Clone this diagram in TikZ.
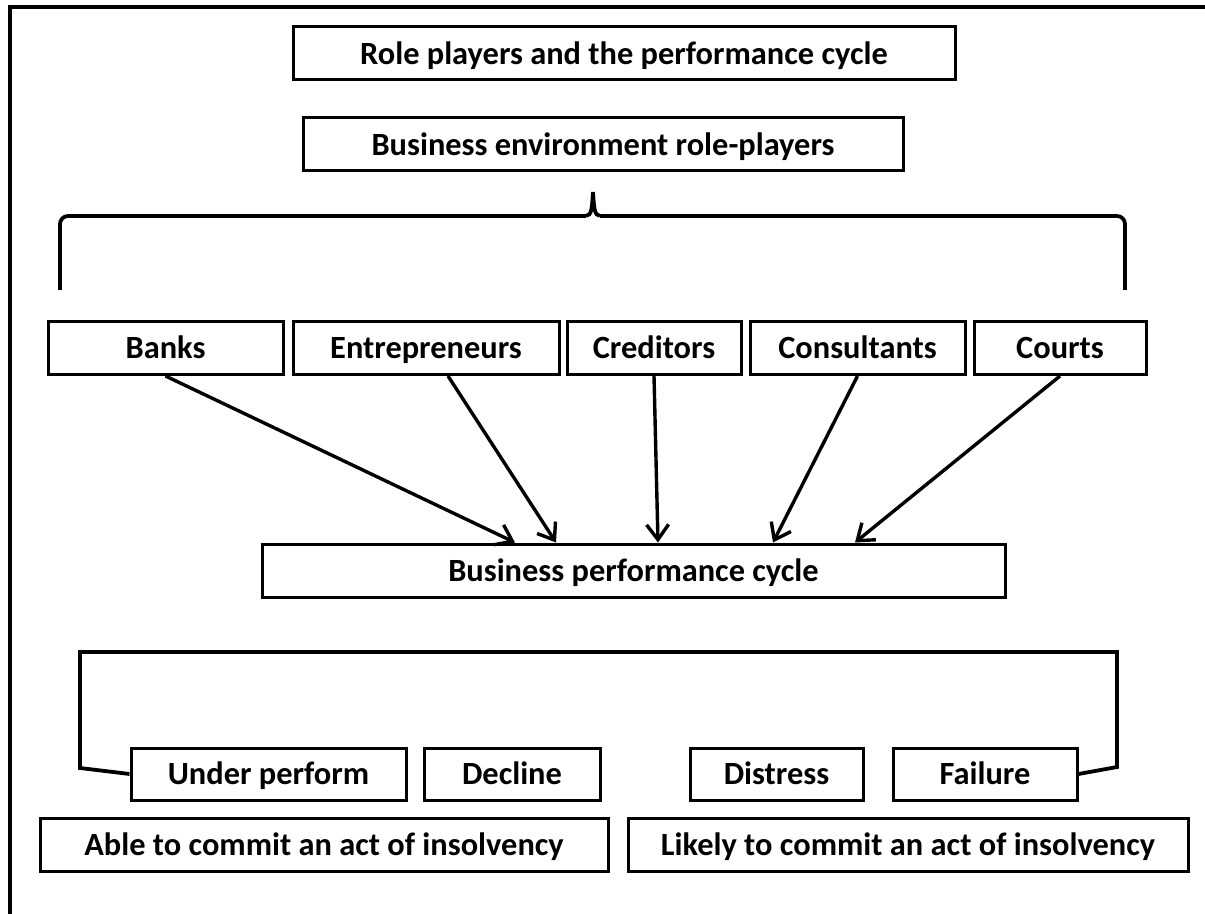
\documentclass[tikz,border=0pt]{standalone}
\usepackage{fontspec}
\setmainfont{Carlito}
\usetikzlibrary{arrows.meta}
\usetikzlibrary{positioning}

\begin{document}
\begin{tikzpicture}[x=0.5pt, y=-0.5pt,
        box/.style={rectangle, draw=black, line width=1.5pt, inner sep=0pt, minimum height=26.5pt, text height=14pt, text depth=3.4pt, font=\fontsize{16.2}{19}\selectfont\bfseries},
        link/.style={line width=1.7pt, -{Straight Barb[length=7.5pt, width=11pt, line width=1.7pt]}},
        bracket/.style={line width=1.9pt}
      ]
        \useasboundingbox (0,0) rectangle (1205,914);
        \draw[line width=2pt] (10,914) -- (10,7) -- (1205,7);

        \node[box]  (title)    at (624, 53.5)   [minimum width=331pt]    {Role players and the performance cycle};
        \node[box]  (env)      at (603, 144.5)  [minimum width=300pt]    {Business environment role-players};

        \node[box]  (banks)    at (165.5, 348)  [minimum width=117.5pt] {Banks};
        \node[box]  (entre)    at (426, 348)    [minimum width=133pt]   {Entrepreneurs};
        \node[box]  (cred)     at (654, 348)    [minimum width=87pt]    {Creditors};
        \node[box]  (cons)     at (857.5, 348)  [minimum width=107.5pt] {Consultants};
        \node[box]  (courts)   at (1060, 348)   [minimum width=86pt]    {Courts};

        \node[box]  (cycle)    at (633.5, 570.5) [minimum width=371.5pt] {Business performance cycle};

        \node[box]  (under)    at (268.5, 774)  [minimum width=137.5pt, minimum height=26pt] {Under perform};
        \node[box]  (decline)  at (512, 774)    [minimum width=88pt, minimum height=26pt]    {Decline};
        \node[box]  (distress) at (776.5, 774)  [minimum width=86.5pt, minimum height=26pt]  {Distress};
        \node[box]  (failure)  at (985, 774)    [minimum width=92pt, minimum height=26pt]    {Failure};

        \node[box]  (able)     at (324, 844.5)  [minimum width=284pt]   {Able to commit an act of insolvency};
        \node[box]  (likely)   at (908, 844.5)  [minimum width=280pt]   {Likely to commit an act of insolvency};

        % brace over the role players
        \draw[bracket, rounded corners=4pt] (60,290) -- (60,216) -- (586,216);
        \draw[bracket] (586,216) .. controls (592,216) and (592,206) .. (593,192)
                                 .. controls (594,206) and (594,216) .. (600,216);
        \draw[bracket, rounded corners=4pt] (600,216) -- (1125,216) -- (1125,290);

        \draw[link]  (banks.south)                -- (515,0 |- cycle.north);
        \draw[link]  ([xshift=11pt]entre.south)   -- (556,0 |- cycle.north);
        \draw[link]  (cred.south)                 -- (658,0 |- cycle.north);
        \draw[link]  (cons.south)                 -- (773,0 |- cycle.north);
        \draw[link]  (courts.south)               -- (855,0 |- cycle.north);

        % bracket round the stages
        \draw[bracket] (under.west) -- (80,768) -- (80,652) -- (1117,652) -- (1117,767) -- (failure.east);
      \end{tikzpicture}
\end{document}
